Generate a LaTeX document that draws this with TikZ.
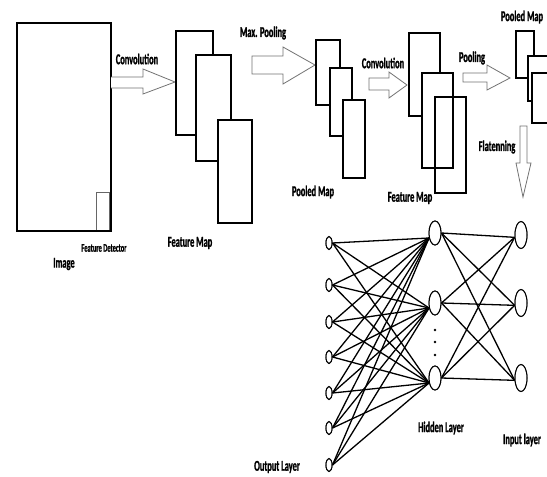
\documentclass[tikz,border=0pt]{standalone}
\usepackage{fontspec}
\setmainfont{Carlito}[FakeStretch=0.56, BoldFeatures={FakeBold=1.2}]
\usetikzlibrary{shapes.geometric}
\tikzset{
  lbl/.style={inner sep=0pt, font=\bfseries\fontsize{15}{17}\selectfont},
  smalllbl/.style={inner sep=0pt, font=\bfseries\fontsize{11.5}{13}\selectfont},
  fmap/.style={draw=black, fill=white, line width=1.6pt},
  fmapopen/.style={draw=black, line width=1.6pt},
  bigarrow/.style={draw=black!55, line width=0.8pt, fill=white},
  outn/.style={ellipse, draw, line width=1pt, fill=white, inner sep=0pt, minimum width=6pt, minimum height=13pt},
  hidn/.style={ellipse, draw, line width=1pt, fill=white, inner sep=0pt, minimum width=12pt, minimum height=24pt},
  inn/.style={ellipse, draw, line width=1pt, fill=white, inner sep=0pt, minimum width=12pt, minimum height=27pt},
  link/.style={line width=1.3pt},
}
\begin{document}
\begin{tikzpicture}[x=1pt, y=-1pt]
\clip (0,0) rectangle (547,477);
\fill[white] (0,0) rectangle (547,477);

% image
\draw[line width=1.5pt] (17,23) rectangle (111,231);
\draw[line width=2.5pt] (17,23) -- (111,23);
\draw[draw=black!60, line width=0.8pt] (96,192) rectangle (109,230);
\draw[line width=2.5pt] (96,231) -- (111,231);

% convolution arrow 1
\draw[bigarrow] (111,77) -- (143,77) -- (143,69) -- (175,82) -- (143,94) -- (143,88) -- (111,88);

% feature map 1
\draw[fmap] (176,31) rectangle (213,135);
\draw[fmap] (196,55) rectangle (231,161);
\draw[fmap] (218,120) rectangle (252,223);

% max pooling arrow
\draw[bigarrow] (252,56) -- (283,56) -- (283,47) -- (315,65) -- (283,84) -- (283,74) -- (252,74) -- cycle;

% pooled map 1
\draw[fmap] (316,40) rectangle (340,105);
\draw[fmap] (330,68) rectangle (352,136);
\draw[fmap] (343,100) rectangle (365,178);

% convolution arrow 2
\draw[bigarrow] (369,78) -- (389,78) -- (389,72) -- (407,85) -- (389,98) -- (389,90) -- (369,90) -- cycle;

% feature map 2
\draw[fmap] (409,33) rectangle (440,116);
\draw[fmap] (422,73) rectangle (453,168);
\draw[fmapopen] (435,97) rectangle (466,193);

% pooling arrow
\draw[bigarrow] (463,73) -- (487,73) -- (487,65) -- (510,78) -- (487,90) -- (487,82) -- (463,82) -- cycle;

% pooled map 2
\draw[fmap] (516,31) rectangle (534,78);
\draw[fmap] (528,56) rectangle (560,101);
\draw[fmap] (532,73) rectangle (560,123);

% flattening arrow
\draw[bigarrow] (520,126) -- (527,126) -- (527,163) -- (531,163) -- (523,197) -- (516,163) -- (520,163) -- cycle;

% labels
\node[lbl] (lconv1) at (137,59) {Convolution};
\node[lbl] (lmax) at (263,33) {Max. Pooling};
\node[lbl] (lconv2) at (383,63) {Convolution};
\node[lbl] (lpool) at (472,58) {Pooling};
\node[lbl] (lpm2) at (522,17) {Pooled Map};
\node[lbl] (lflat) at (497,147) {Flatenning};
\node[smalllbl] (lfd) at (104,248) {Feature Detector};
\node[lbl] (limg) at (64,264) {Image};
\node[lbl] (lfm1) at (190,243) {Feature Map};
\node[lbl] (lpm1) at (313,192) {Pooled Map};
\node[lbl] (lfm2) at (410,198) {Feature Map};
\node[lbl] (lhid) at (441,428) {Hidden Layer};
\node[lbl] (linp) at (522,440) {Input layer};
\node[lbl] (lout) at (277,467) {Output Layer};

% network nodes
\node[outn] (o1) at (329,243) {};
\node[outn] (o2) at (329,285) {};
\node[outn] (o3) at (329,322) {};
\node[outn] (o4) at (329,357) {};
\node[outn] (o5) at (329,393) {};
\node[outn] (o6) at (329,428) {};
\node[outn] (o7) at (329,465) {};
\node[hidn] (h1) at (435,233) {};
\node[hidn] (h2) at (435,303) {};
\node[hidn] (h3) at (435,378) {};
\node[inn] (i1) at (521,235) {};
\node[inn] (i2) at (521,303) {};
\node[inn] (i3) at (521,378) {};

% connections
\foreach \o in {1,...,7}{
  \foreach \h in {1,2,3}{
    \draw[link] (o\o.east) -- (h\h.-140);
  }
}
\foreach \h in {1,2,3}{
  \foreach \i in {1,2,3}{
    \draw[link] (h\h.east) -- (i\i.-160);
  }
}
% redraw nodes on top
\foreach \n/\s in {o1/outn,o2/outn,o3/outn,o4/outn,o5/outn,o6/outn,o7/outn,h1/hidn,h2/hidn,h3/hidn,i1/inn,i2/inn,i3/inn}{
  \node[\s] (top\n) at (\n) {};
}
% dots
\fill (435,330) circle (1.3pt);
\fill (435,342) circle (1.3pt);
\fill (435,355) circle (1.3pt);
\end{tikzpicture}
\end{document}
